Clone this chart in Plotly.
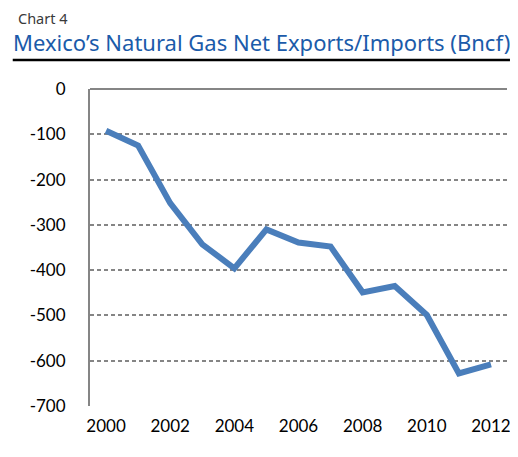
import plotly.graph_objects as go

years = [2000, 2001, 2002, 2003, 2004, 2005, 2006, 2007, 2008, 2009, 2010, 2011, 2012]
net_exports = [-92, -125, -252, -343, -396, -310, -339, -348, -449, -435, -499, -628, -608]
x_ticks = [2000, 2002, 2004, 2006, 2008, 2010, 2012]
y_ticks = [0, -100, -200, -300, -400, -500, -600, -700]

OFF = 8  # browser body margin
W, H = 518 - OFF, 457 - OFF
# plot area in page pixels: x 90..511, y 89..406
L, R = 90 - OFF, 518 - 511
T, B = 89 - OFF, 457 - 406
pw, ph = W - L - R, H - T - B

def px(x):  # page pixel -> paper x
    return (x - OFF - L) / pw

def py(y):  # page pixel -> paper y
    return (H - B - (y - OFF)) / ph

fig = go.Figure()
fig.add_trace(go.Scatter(
    x=years, y=net_exports, mode="lines",
    line=dict(color="#4A7EBB", width=6),
    showlegend=False, hoverinfo="skip",
))

tick_font = dict(size=17, family="Lato, Calibri, sans-serif", color="black")

fig.update_layout(
    width=W, height=H,
    margin=dict(l=L, r=R, t=T, b=B),
    paper_bgcolor="white", plot_bgcolor="white",
    font=dict(family="Lato, Calibri, sans-serif", size=17, color="black"),
    xaxis=dict(
        range=[1999.5, 2012.5], tickmode="array", tickvals=x_ticks,
        ticktext=[str(v) for v in x_ticks],
        showgrid=False, zeroline=False, showline=False, ticks="",
        ticklabelstandoff=8, tickfont=tick_font,
    ),
    yaxis=dict(
        range=[-700, 0], tickmode="array", tickvals=y_ticks,
        ticktext=[str(v) for v in y_ticks],
        showgrid=True, gridcolor="#858585", gridwidth=1.5, griddash="4px,3px",
        zeroline=True, zerolinecolor="#858585", zerolinewidth=2,
        showline=True, linecolor="#858585", linewidth=2, ticks="",
        ticklabelstandoff=19, tickfont=tick_font,
    ),
    annotations=[
        dict(text="Chart 4", xref="paper", yref="paper", x=px(16), y=py(28.5),
             xanchor="left", yanchor="bottom", showarrow=False, borderpad=0,
             font=dict(family="Noto Sans, sans-serif", size=14.5, color="#3a3a3a")),
        dict(text="Mexico’s Natural Gas Net Exports/Imports (Bncf)", xref="paper", yref="paper",
             x=px(11), y=py(58.5), xanchor="left", yanchor="bottom", showarrow=False, borderpad=0,
             font=dict(family="Noto Sans, sans-serif", size=22, color="#1B5BAA")),
    ],
    shapes=[
        dict(type="line", xref="paper", yref="paper", x0=px(12), x1=px(514),
             y0=py(60), y1=py(60), line=dict(color="black", width=2.5)),
    ],
)

fig.write_html("out.html")
